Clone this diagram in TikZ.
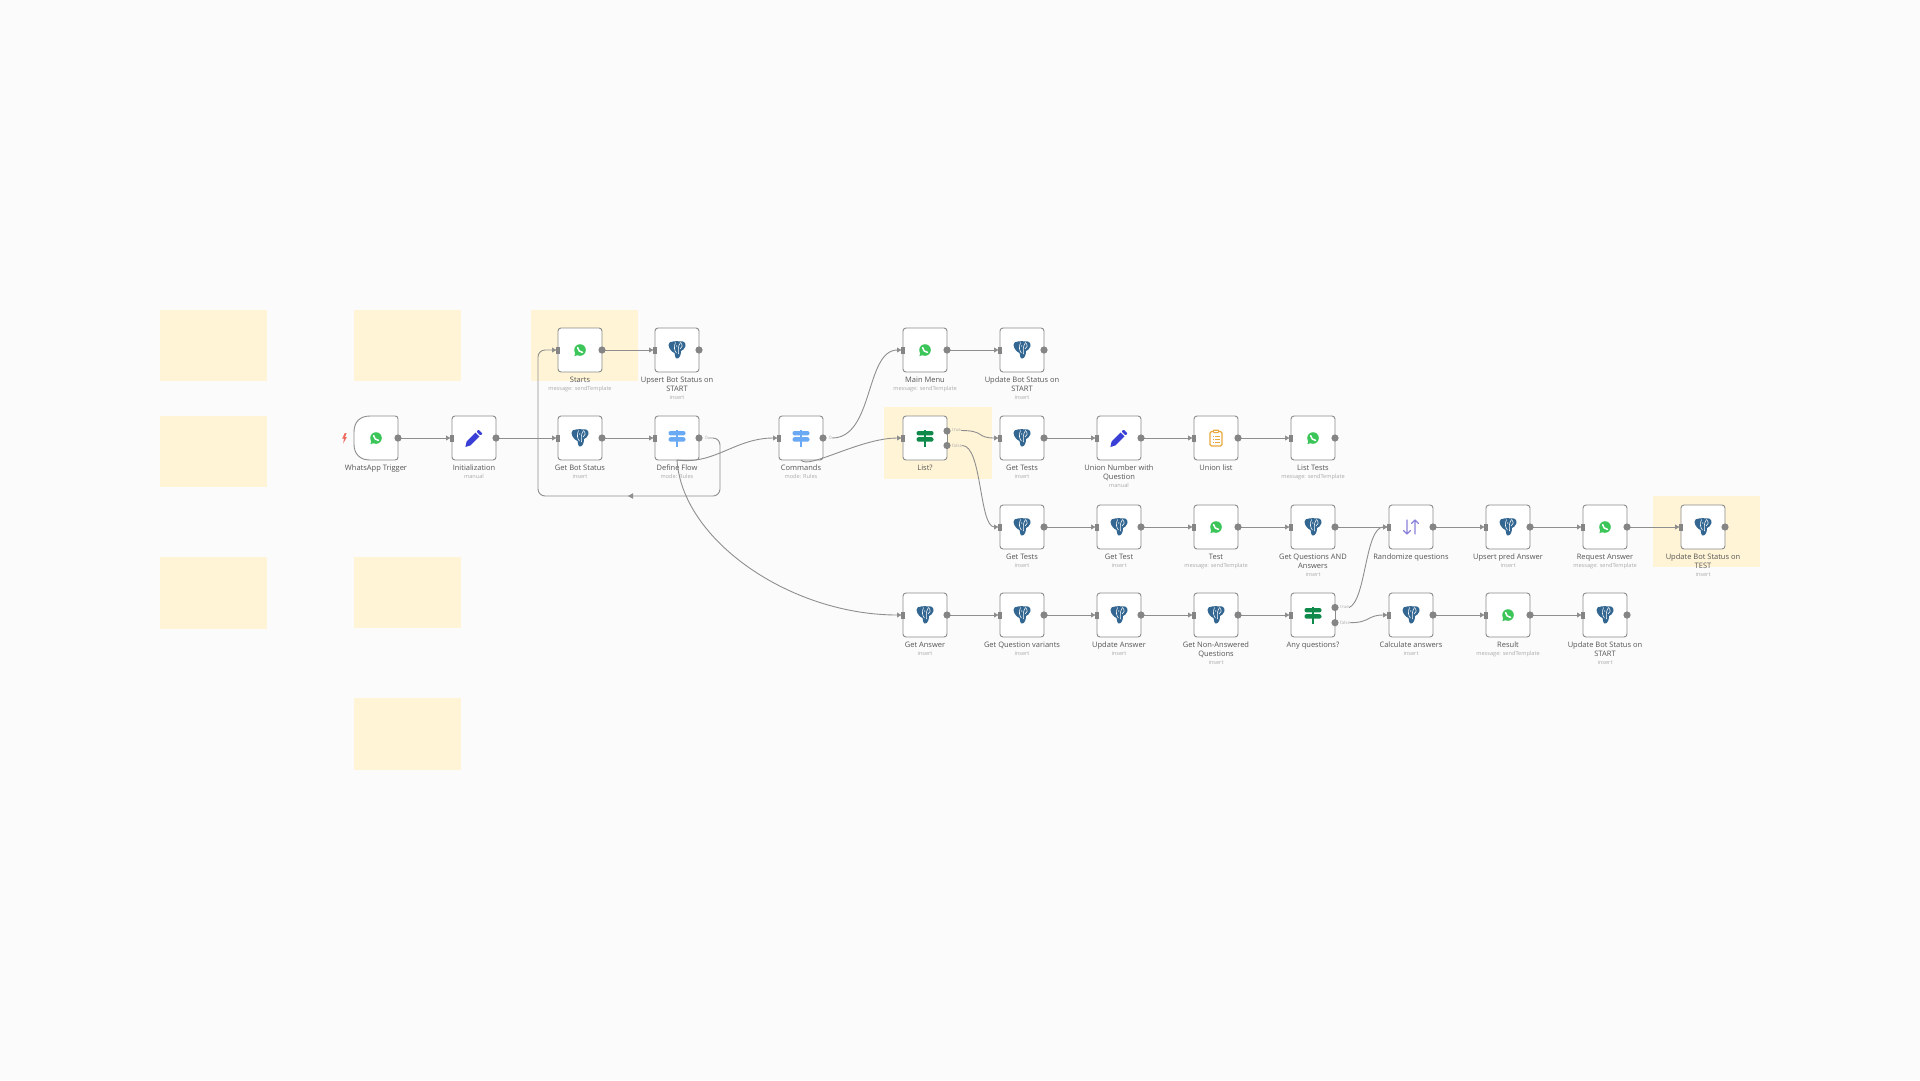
\documentclass[tikz,border=0pt]{standalone}
\usepackage{fontspec}
\setmainfont{Open Sans}
\usetikzlibrary{arrows.meta,calc}
\pgfdeclarelayer{sticky}
\pgfdeclarelayer{conn}
\pgfsetlayers{sticky,conn,main}
\definecolor{bgc}{HTML}{FBFBFC}
\definecolor{stickyc}{HTML}{FFF4D6}
\definecolor{linec}{HTML}{8E8E8E}
\definecolor{boxc}{HTML}{8A8A8A}
\definecolor{portc}{HTML}{858585}
\definecolor{lblc}{HTML}{555555}
\definecolor{subc}{HTML}{ABABAB}
\definecolor{wag}{HTML}{3CC65A}
\definecolor{pgb}{HTML}{336791}
\definecolor{swb}{HTML}{6AA9F4}
\definecolor{swg}{HTML}{0F8A4A}
\definecolor{penc}{HTML}{3A40D6}
\definecolor{clipc}{HTML}{E9A83C}
\definecolor{sortc}{HTML}{8B82DA}
\definecolor{boltc}{HTML}{EE6A5E}
\tikzset{
  stickynote/.style={fill=stickyc,draw=none},
  wfbox/.style={draw=boxc,line width=.9pt,fill=white,rounded corners=3pt,minimum width=44pt,minimum height=44pt,inner sep=0pt,outer sep=0pt},
  wfghost/.style={draw=none,minimum width=44pt,minimum height=44pt,inner sep=0pt,outer sep=0pt},
  wflabel/.style={anchor=north,align=center,inner sep=0pt,text=lblc,font=\fontsize{7.5}{9}\selectfont},
  conn/.style={draw=linec,line width=.9pt},
  wire/.style={conn,-{Latex[length=5pt,width=5.5pt]},shorten >=1pt},
  outport/.style={fill=portc,draw=none},
  inport/.style={fill=portc,draw=none},
  portlabel/.style={text=subc,inner sep=0pt,font=\fontsize{4.5}{5}\selectfont,anchor=west},
}
\newcommand\icwa{%
  \fill[wag] (0,0) circle (5.8);
  \fill[wag] (-5.6,6.2) -- (-4.6,2.5) -- (-2.2,5) -- cycle;
  \draw[white,line width=1.5pt,line cap=round] (-2.4,-2.4) .. controls (-2.2,.2) and (0,2.2) .. (2.5,2.4);
}
\newcommand\icpg{%
  \fill[pgb] (-4,-8.5) .. controls (-1,-9) and (1,-9) .. (3,-8.5) .. controls (6,-9.5) and (9,-7.5) .. (8.5,-4) .. controls (8,-1) and (5.5,0) .. (4,1) .. controls (4,4) and (3,8.5) .. (0,8.5) .. controls (-2,8.5) and (-2,5) .. (-2.5,3) .. controls (-5,2) and (-8,-1) .. (-8.5,-5) .. controls (-8.7,-7) and (-6.5,-9) .. (-4,-8.5) -- cycle;
  \draw[white,line width=.55pt] (-1.5,-7.5) .. controls (-3.5,-3) and (-2.5,1) .. (-.5,3);
  \draw[white,line width=.55pt] (3.5,-7.5) .. controls (1,-4) and (1,0) .. (1.5,4);
  \draw[white,line width=.55pt] (3.5,-7.5) .. controls (6,-5) and (5.5,-2) .. (3,-1);
  \fill[white] (-.2,-4) circle (.6);
}
\newcommand\icsw[1]{%
  \fill[#1] (-1,-8.5) rectangle (1,8.5);
  \fill[#1,rounded corners=2pt] (-8.5,-7) rectangle (8.5,-2.6);
  \fill[#1,rounded corners=2pt] (-8.5,-.8) rectangle (8.5,3.6);
}
\newcommand\icswb{\icsw{swb}}
\newcommand\icswg{\icsw{swg}}
\newcommand\icpen{%
  \fill[penc] (-8.6,9) -- (-7.4,3.6) -- (1.6,-5.4) -- (5.4,-1.6) -- (-3.6,7.4) -- cycle;
  \fill[penc,rounded corners=.8pt] (2.6,-6.4) -- (4.6,-8.4) -- (8.6,-4.4) -- (6.4,-2.6) -- cycle;
}
\newcommand\icclip{%
  \draw[clipc,line width=1.3pt,rounded corners=1.5pt] (-6,-6.5) rectangle (6,8);
  \fill[clipc,rounded corners=.8pt] (-3,-8.5) rectangle (3,-5);
  \fill[white] (-1.8,-7.4) rectangle (1.8,-6);
  \draw[clipc,line width=.9pt] (-3.4,-2) -- (-2.2,-2) (-.8,-2) -- (3.6,-2) (-3.4,1) -- (-2.2,1) (-.8,1) -- (3.6,1) (-3.4,4) -- (-2.2,4) (-.8,4) -- (3.6,4);
}
\newcommand\icsort{%
  \draw[sortc,line width=1.2pt,line cap=round,line join=round] (-4,-7) -- (-4,7) (-7.5,3.5) -- (-4,7) -- (-.5,3.5);
  \draw[sortc,line width=1.2pt,line cap=round,line join=round] (4,7) -- (4,-7) (.5,-3.5) -- (4,-7) -- (7.5,-3.5);
}
\newcommand\subtextfont{\color{subc}\fontsize{5.6}{9}\selectfont}
% name, x, y, icon, label, sub
\newcommand\wf[6]{%
  \node[wfbox] (#1) at (#2,#3) {};
  \begin{scope}[shift={(#2,#3)}]\csname ic#4\endcsname\end{scope}
  \node[wflabel] (#1-l) at (#2,#3+26.5) {#5\if\relax\detokenize{#6}\relax\else\\[-.5pt]{\subtextfont #6}\fi};
  \fill[outport] (#1.east) circle (3.6);
  \fill[inport] ($(#1.west)+(-1.6,-3.5)$) rectangle ($(#1.west)+(1.8,3.5)$);
}
\begin{document}
\begin{tikzpicture}[x=1pt,y=-1pt]
\useasboundingbox (0,0) rectangle (1920,1080);
\begin{pgfonlayer}{sticky}
\fill[bgc] (0,0) rectangle (1920,1080);
\fill[stickynote] (160,310) rectangle (267,381);
\fill[stickynote] (160,416) rectangle (267,487);
\fill[stickynote] (160,557) rectangle (267,629);
\fill[stickynote] (354,310) rectangle (461,381);
\fill[stickynote] (354,557) rectangle (461,628);
\fill[stickynote] (354,698) rectangle (461,770);
\fill[stickynote] (531,310) rectangle (638,381);
\fill[stickynote] (884,407) rectangle (992,479);
\fill[stickynote] (1653,496) rectangle (1760,567);
\end{pgfonlayer}

% trigger
\node[wfghost] (trig) at (376,438) {};
\fill[white,draw=boxc,line width=.9pt] (395,416) -- (370,416) .. controls (360,416) and (354,422) .. (354,432) -- (354,444) .. controls (354,454) and (360,460) .. (370,460) -- (395,460) .. controls (397,460) and (398,459) .. (398,457) -- (398,419) .. controls (398,417) and (397,416) .. (395,416) -- cycle;
\begin{scope}[shift={(376,438)}]\icwa\end{scope}
\node[wflabel] (trig-l) at (376,464.5) {WhatsApp Trigger};
\fill[outport] (trig.east) circle (3.6);
\node[inner sep=0pt] (bolt) at (344.5,438) {};
\fill[boltc] (344.8,433) -- (342.2,438.5) -- (344,438.5) -- (343.2,443.5) -- (346.8,437.2) -- (345,437.2) -- (346.6,433) -- cycle;

% row 1
\wf{starts}{580}{350}{wa}{Starts}{message: sendTemplate}
\wf{upsert}{677}{350}{pg}{Upsert Bot Status on\\START}{insert}
\wf{mainm}{925}{350}{wa}{Main Menu}{message: sendTemplate}
\wf{updst}{1022}{350}{pg}{Update Bot Status on\\START}{insert}
% row 2
\wf{init}{474}{438}{pen}{Initialization}{manual}
\wf{botst}{580}{438}{pg}{Get Bot Status}{insert}
\wf{flow}{677}{438}{swb}{Define Flow}{mode: Rules}
\wf{cmds}{801}{438}{swb}{Commands}{mode: Rules}
\wf{listq}{925}{438}{swg}{List?}{}
\wf{tests}{1022}{438}{pg}{Get Tests}{insert}
\wf{unionn}{1119}{438}{pen}{Union Number with\\Question}{manual}
\wf{unionl}{1216}{438}{clip}{Union list}{}
\wf{listt}{1313}{438}{wa}{List Tests}{message: sendTemplate}
% row 3
\wf{testsb}{1022}{527}{pg}{Get Tests}{insert}
\wf{gtest}{1119}{527}{pg}{Get Test}{insert}
\wf{testm}{1216}{527}{wa}{Test}{message: sendTemplate}
\wf{qanda}{1313}{527}{pg}{Get Questions AND\\Answers}{insert}
\wf{rand}{1411}{527}{sort}{Randomize questions}{}
\wf{upred}{1508}{527}{pg}{Upsert pred Answer}{insert}
\wf{reqa}{1605}{527}{wa}{Request Answer}{message: sendTemplate}
\wf{updtest}{1703}{527}{pg}{Update Bot Status on\\TEST}{insert}
% row 4
\wf{gans}{925}{615}{pg}{Get Answer}{insert}
\wf{gvar}{1022}{615}{pg}{Get Question variants}{insert}
\wf{uans}{1119}{615}{pg}{Update Answer}{insert}
\wf{gnon}{1216}{615}{pg}{Get Non-Answered\\Questions}{insert}
\wf{anyq}{1313}{615}{swg}{Any questions?}{}
\wf{calc}{1411}{615}{pg}{Calculate answers}{insert}
\wf{resm}{1508}{615}{wa}{Result}{message: sendTemplate}
\wf{updend}{1605}{615}{pg}{Update Bot Status on\\START}{insert}

% two-output switches: cover the single middle port
\fill[white] ($(listq.east)+(-4,-4)$) rectangle ($(listq.east)+(-.5,4)$);
\fill[white] ($(anyq.east)+(-4,-4)$) rectangle ($(anyq.east)+(-.5,4)$);
\fill[bgc] ($(anyq.east)+(.5,-4)$) rectangle ($(anyq.east)+(4,4)$);
\fill[stickyc] ($(listq.east)+(.5,-4)$) rectangle ($(listq.east)+(4,4)$);
\draw[boxc,line width=.9pt] ($(listq.east)+(0,-4.5)$) -- ($(listq.east)+(0,4.5)$);
\draw[boxc,line width=.9pt] ($(anyq.east)+(0,-4.5)$) -- ($(anyq.east)+(0,4.5)$);
\coordinate (listt-o) at ($(listq.east)+(0,-7)$);
\coordinate (listf-o) at ($(listq.east)+(0,7.5)$);
\coordinate (anyt-o) at ($(anyq.east)+(0,-7.5)$);
\coordinate (anyf-o) at ($(anyq.east)+(0,7.7)$);
\fill[outport] (listt-o) circle (3.6);
\fill[outport] (listf-o) circle (3.6);
\fill[outport] (anyt-o) circle (3.6);
\fill[outport] (anyf-o) circle (3.6);
\node[portlabel] (l-lt) at ($(listt-o)+(5,-.5)$) {true};
\node[portlabel] (l-lf) at ($(listf-o)+(5,0)$) {false};
\node[portlabel] (l-at) at ($(anyt-o)+(5,0)$) {true};
\node[portlabel] (l-af) at ($(anyf-o)+(5,0)$) {false};
\node[portlabel] (l-f0) at ($(flow.east)+(6,0)$) {0};
\node[portlabel] (l-c0) at ($(cmds.east)+(6,0)$) {0};

\begin{pgfonlayer}{conn}
\foreach \a/\b in {trig/init,init/botst,botst/flow,starts/upsert,mainm/updst,tests/unionn,unionn/unionl,unionl/listt,
  testsb/gtest,gtest/testm,testm/qanda,qanda/rand,rand/upred,upred/reqa,reqa/updtest,
  gans/gvar,gvar/uans,uans/gnon,gnon/anyq,calc/resm,resm/updend}
  {\draw[wire] (\a.east) -- (\b.west);}
% loop from Define Flow to Starts
\coordinate (loopr) at ($(flow.east)+(21,0)$);
\coordinate (loopb) at (720,496);
\coordinate (loopl) at (538,496);
\coordinate (loopm) at (630,496);
\draw[wire,rounded corners=7pt] (l-f0.east) -- (loopr) -- (loopb) -- (loopl) -- (starts.west -| loopl) -- (starts.west);
\fill[linec] (loopm) ++(3,-2.8) -- ++(0,5.6) -- ++(-5,-2.8) -- cycle;
\draw[wire] (l-c0.east) .. controls +(42,0) and +(-38,0) .. (mainm.west);
\draw[wire] (l-lt.east) .. controls +(24,0) and +(-24,0) .. (tests.west);
\draw[wire] (l-lf.east) .. controls +(20,0) and +(-21,0) .. (testsb.west);
\draw[wire] (l-at.east) .. controls +(17,-7) and +(-24,0) .. (rand.west);
\draw[wire] (l-af.east) .. controls +(20,0) and +(-22,0) .. (calc.west);
\end{pgfonlayer}
% these three run over the labels
\draw[wire] (flow.south) .. controls (715,465) and (735,438) .. (cmds.west);
\draw[wire] (cmds.south) .. controls (808,470) and (860,438) .. (listq.west);
\draw[wire] (flow.south) .. controls (682,540) and (790,615) .. (gans.west);
\end{tikzpicture}
\end{document}
